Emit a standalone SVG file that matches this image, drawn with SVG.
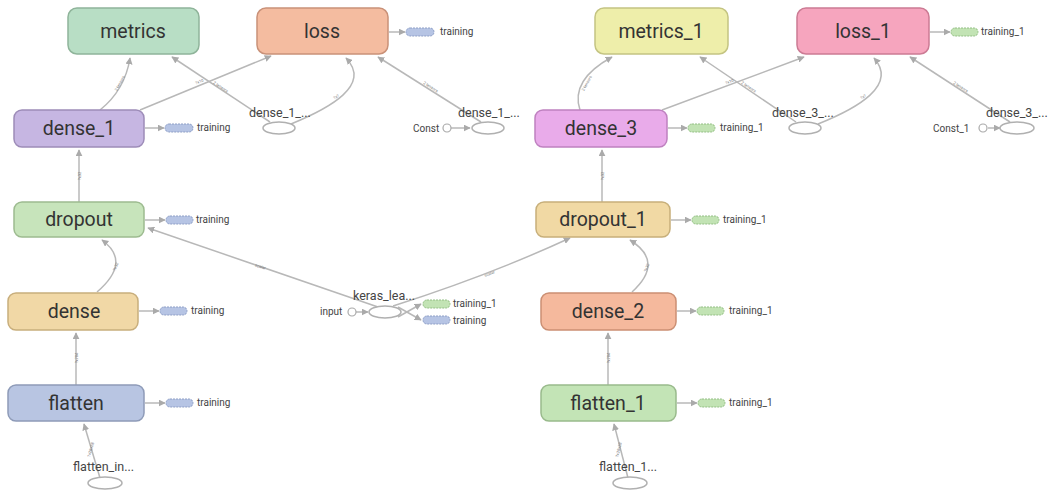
<svg xmlns="http://www.w3.org/2000/svg" width="1053" height="490" viewBox="0 0 1053 490">
<defs>
<marker id="ah" viewBox="0 0 10 10" refX="9" refY="5" markerWidth="7" markerHeight="7" markerUnits="userSpaceOnUse" orient="auto">
<path d="M0,0 L10,5 L0,10 z" fill="#aaaaaa"/>
</marker>
<style>
.node rect{stroke-width:1.5}
.nl{font-family:Roboto,"Liberation Sans",sans-serif;font-size:19.5px;fill:#333;text-anchor:middle}
.sl{font-family:Roboto,"Liberation Sans",sans-serif;font-size:10px;fill:#444}
.el{font-family:Roboto,"Liberation Sans",sans-serif;font-size:12.5px;fill:#444}
.tl{font-family:Roboto,"Liberation Sans",sans-serif;font-size:4px;fill:#777;text-anchor:middle}
.edge{fill:none;stroke:#b8b8b8;stroke-width:1.5;marker-end:url(#ah)}
.pb{fill:#b6c4e4;stroke:#8e9fc6;stroke-width:1;stroke-dasharray:2 1}
.pg{fill:#c2e3b4;stroke:#93bf84;stroke-width:1;stroke-dasharray:2 1}
.ell{fill:#fff;stroke:#b0b0b0;stroke-width:1.5}
.cst{fill:#fff;stroke:#aaa;stroke-width:1.2}
</style>
</defs>
<rect width="1053" height="490" fill="#ffffff"/>

<g id="connectors">
<path class="edge" d="M100,110 Q125,90 130,58"/>
<path class="edge" d="M140,110 L271,56"/>
<path class="edge" d="M270,122 L172,57"/>
<path class="edge" d="M291,124 C330,108 372,85 346,58"/>
<path class="edge" d="M481,122 L378,57"/>
<path class="edge" d="M451,128 L470,128"/>
<path class="edge" d="M580,110 Q570,80 612,57"/>
<path class="edge" d="M662,110 L804,57"/>
<path class="edge" d="M796,122 L700,57"/>
<path class="edge" d="M818,124 C858,108 898,85 874,58"/>
<path class="edge" d="M1010,122 L910,57"/>
<path class="edge" d="M988,128 L1000,128"/>
<path class="edge" d="M79,202 L79,150"/>
<path class="edge" d="M97,292 Q132,262 102,240"/>
<path class="edge" d="M378,307 L148,228"/>
<path class="edge" d="M393,306 Q490,275 570,238"/>
<path class="edge" d="M356,312 L368,312"/>
<path class="edge" d="M398,317 L421,304"/>
<path class="edge" d="M398,307 L421,320"/>
<path class="edge" d="M602,202 L602,150"/>
<path class="edge" d="M632,292 Q665,262 630,240"/>
<path class="edge" d="M76,385 L76,333"/>
<path class="edge" d="M100,478 L84,424"/>
<path class="edge" d="M608,385 L608,333"/>
<path class="edge" d="M628,478 L614,424"/>
<path class="edge" d="M389,32 L405,32"/>
<path class="edge" d="M145,128 L164,128"/>
<path class="edge" d="M145,220 L165,220"/>
<path class="edge" d="M139,311 L159,311"/>
<path class="edge" d="M145,403 L165,403"/>
<path class="edge" d="M930,32 L950,32"/>
<path class="edge" d="M668,128 L687,128"/>
<path class="edge" d="M671,220 L691,220"/>
<path class="edge" d="M677,311 L696,311"/>
<path class="edge" d="M677,403 L697,403"/>
<text class="tl" transform="translate(121,84) rotate(-62)">2 tensors</text>
<text class="tl" transform="translate(200,83) rotate(-22)">?x10</text>
<text class="tl" transform="translate(220,88) rotate(34)">2 tensors</text>
<text class="tl" transform="translate(337,98) rotate(-32)">?x?</text>
<text class="tl" transform="translate(430,88) rotate(33)">2 tensors</text>
<text class="tl" transform="translate(588,84) rotate(-62)">2 tensors</text>
<text class="tl" transform="translate(730,83) rotate(-20)">?x10</text>
<text class="tl" transform="translate(748,88) rotate(34)">2 tensors</text>
<text class="tl" transform="translate(864,98) rotate(-32)">?x?</text>
<text class="tl" transform="translate(960,88) rotate(33)">2 tensors</text>
<text class="tl" transform="translate(81,176) rotate(-90)">?x32</text>
<text class="tl" transform="translate(117,267) rotate(-70)">?x32</text>
<text class="tl" transform="translate(260,268) rotate(19)">scalar</text>
<text class="tl" transform="translate(490,275) rotate(-22)">scalar</text>
<text class="tl" transform="translate(604,176) rotate(-90)">?x32</text>
<text class="tl" transform="translate(648,268) rotate(-70)">?x32</text>
<text class="tl" transform="translate(78,358) rotate(-90)">?x784</text>
<text class="tl" transform="translate(92,450) rotate(-74)">?x28x28</text>
<text class="tl" transform="translate(610,358) rotate(-90)">?x784</text>
<text class="tl" transform="translate(620,450) rotate(-77)">?x28x28</text>
</g>

<g id="metrics" class="node"><rect x="68" y="8" width="131" height="46" rx="9" fill="#b8dec5" stroke="#8fb49a"/><text class="nl" x="133" y="38">metrics</text></g>
<g id="loss" class="node"><rect x="257" y="8" width="131" height="46" rx="9" fill="#f4bca0" stroke="#c99178"/><text class="nl" x="322" y="38">loss</text></g>
<g id="loss_training"><rect class="pb" x="406" y="28" width="28" height="8" rx="4"/><text class="sl" x="440" y="35">training</text></g>
<g id="dense_1" class="node"><rect x="14" y="110" width="130" height="37" rx="8" fill="#c6b6e2" stroke="#9d8cb8"/><text class="nl" x="79" y="135">dense_1</text></g>
<g id="dense_1_training"><rect class="pb" x="165" y="124" width="28" height="8" rx="4"/><text class="sl" x="197" y="131">training</text></g>
<g id="dense_1_a"><ellipse class="ell" cx="279" cy="128" rx="16" ry="6"/><text class="el" x="249" y="117">dense_1_...</text></g>
<g id="dense_1_b"><ellipse class="ell" cx="488" cy="128" rx="16" ry="6"/><text class="el" x="458" y="117">dense_1_...</text></g>
<g id="const"><circle class="cst" cx="447" cy="128" r="4"/><text class="sl" x="413" y="132">Const</text></g>
<g id="dropout" class="node"><rect x="14" y="202" width="130" height="35" rx="8" fill="#c7e4bb" stroke="#9dbb90"/><text class="nl" x="79" y="226">dropout</text></g>
<g id="dropout_training"><rect class="pb" x="166" y="216" width="27" height="8" rx="4"/><text class="sl" x="196" y="223">training</text></g>
<g id="dense" class="node"><rect x="8" y="293" width="130" height="37" rx="8" fill="#f1d8a6" stroke="#c8ae7c"/><text class="nl" x="74" y="318">dense</text></g>
<g id="dense_training"><rect class="pb" x="160" y="307" width="27" height="8" rx="4"/><text class="sl" x="191" y="314">training</text></g>
<g id="flatten" class="node"><rect x="8" y="385" width="136" height="36" rx="8" fill="#b8c5e2" stroke="#8e9bb8"/><text class="nl" x="76" y="410">flatten</text></g>
<g id="flatten_training"><rect class="pb" x="166" y="399" width="27" height="8" rx="4"/><text class="sl" x="197" y="406">training</text></g>
<g id="flatten_input"><ellipse class="ell" cx="105" cy="483" rx="17" ry="6"/><text class="el" x="73" y="471">flatten_in...</text></g>
<g id="keras_learning_phase"><ellipse class="ell" cx="385" cy="312" rx="16" ry="6"/><text class="el" x="353" y="300">keras_lea...</text></g>
<g id="input"><circle class="cst" cx="352" cy="312" r="4"/><text class="sl" x="320" y="315">input</text></g>
<g id="keras_training_1"><rect class="pg" x="423" y="300" width="27" height="8" rx="4"/><text class="sl" x="453" y="307">training_1</text></g>
<g id="keras_training"><rect class="pb" x="423" y="316" width="27" height="8" rx="4"/><text class="sl" x="453" y="324">training</text></g>

<g id="metrics_1" class="node"><rect x="595" y="8" width="133" height="46" rx="9" fill="#eeeeaa" stroke="#c4c482"/><text class="nl" x="661" y="38">metrics_1</text></g>
<g id="loss_1" class="node"><rect x="797" y="8" width="132" height="46" rx="9" fill="#f6a5be" stroke="#cc7b94"/><text class="nl" x="863" y="38">loss_1</text></g>
<g id="loss_1_training"><rect class="pg" x="951" y="28" width="27" height="8" rx="4"/><text class="sl" x="981" y="35">training_1</text></g>
<g id="dense_3" class="node"><rect x="535" y="110" width="132" height="37" rx="8" fill="#e9abea" stroke="#bf81c0"/><text class="nl" x="601" y="135">dense_3</text></g>
<g id="dense_3_training"><rect class="pg" x="688" y="124" width="27" height="8" rx="4"/><text class="sl" x="720" y="131">training_1</text></g>
<g id="dense_3_a"><ellipse class="ell" cx="805" cy="128" rx="16" ry="6"/><text class="el" x="772" y="117">dense_3_...</text></g>
<g id="dense_3_b"><ellipse class="ell" cx="1017" cy="128" rx="17" ry="6"/><text class="el" x="986" y="117">dense_3_...</text></g>
<g id="const_1"><circle class="cst" cx="983" cy="128" r="4"/><text class="sl" x="933" y="132">Const_1</text></g>
<g id="dropout_1" class="node"><rect x="536" y="202" width="134" height="35" rx="8" fill="#f1d9a4" stroke="#c7af7a"/><text class="nl" x="603" y="226">dropout_1</text></g>
<g id="dropout_1_training"><rect class="pg" x="692" y="216" width="27" height="8" rx="4"/><text class="sl" x="723" y="223">training_1</text></g>
<g id="dense_2" class="node"><rect x="541" y="293" width="135" height="37" rx="8" fill="#f5b99d" stroke="#cb8f73"/><text class="nl" x="608" y="318">dense_2</text></g>
<g id="dense_2_training"><rect class="pg" x="697" y="307" width="27" height="8" rx="4"/><text class="sl" x="729" y="314">training_1</text></g>
<g id="flatten_1" class="node"><rect x="541" y="385" width="135" height="36" rx="8" fill="#c3e4b6" stroke="#99ba8c"/><text class="nl" x="608" y="410">flatten_1</text></g>
<g id="flatten_1_training"><rect class="pg" x="698" y="399" width="27" height="8" rx="4"/><text class="sl" x="729" y="406">training_1</text></g>
<g id="flatten_1_input"><ellipse class="ell" cx="630" cy="483" rx="17" ry="6"/><text class="el" x="599" y="471">flatten_1...</text></g>
</svg>
